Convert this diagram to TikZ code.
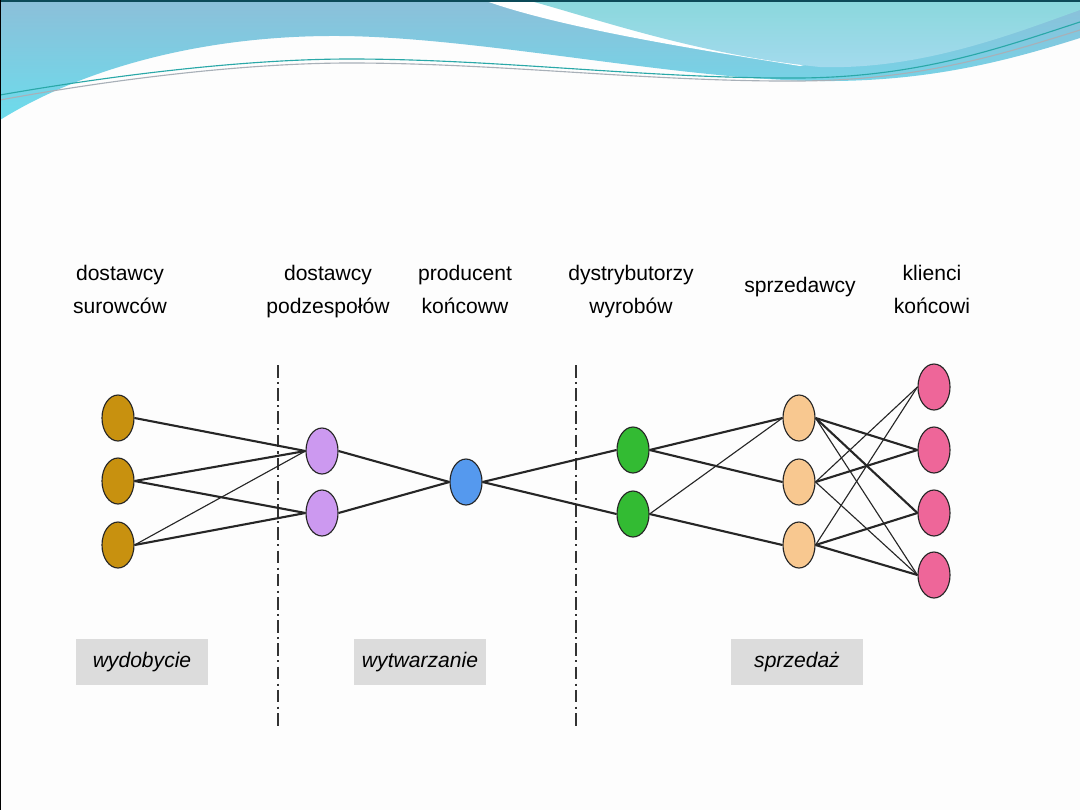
\documentclass[tikz,border=0pt]{standalone}
\usepackage{fontspec}
\setmainfont{Liberation Sans}
\usetikzlibrary{shapes.geometric}

\definecolor{tlo}{HTML}{FDFDFD}
\definecolor{ciemny}{HTML}{0C4A58}
\definecolor{pasLgora}{HTML}{8CBFD9}
\definecolor{pasLdol}{HTML}{6CDCEC}
\definecolor{pasPgora}{HTML}{8AD8DC}
\definecolor{pasPdol}{HTML}{A4DAEE}
\definecolor{liniaA}{HTML}{2AA8A8}
\definecolor{liniaB}{HTML}{A8B0B8}
\definecolor{szary}{HTML}{DCDCDC}
\definecolor{surowiec}{HTML}{C8910F}
\definecolor{podzespol}{HTML}{CC99F0}
\definecolor{producent}{HTML}{5599EE}
\definecolor{dystrybutor}{HTML}{33BB33}
\definecolor{sprzedawca}{HTML}{F8C890}
\definecolor{klient}{HTML}{EE6699}

\begin{document}
\begin{tikzpicture}[x=0.025cm, y=-0.025cm,
	wezel/.style={shape=ellipse, draw=black!85, line width=0.8pt, minimum width=0.8cm, minimum height=1.15cm, inner sep=0pt},
	etykieta/.style={align=center, inner sep=0pt, font=\fontsize{15}{23.5}\selectfont},
	faza/.style={fill=szary, minimum width=3.3cm, minimum height=1.15cm, inner sep=0pt, font=\fontsize{15}{18}\selectfont\itshape},
	polaczenie/.style={line width=1.5pt, black!85},
	cienkie/.style={line width=0.8pt, black!85},
	granica/.style={line width=0.8pt, black!80, dash pattern=on 9pt off 3pt on 1.5pt off 3pt}]
	\useasboundingbox (0,0) rectangle (1080,810);
	% Background and header waves:
	\fill[tlo] (0,0) rectangle (1080,810);
	\shade[top color=pasLgora, bottom color=pasLdol] (0,0) -- (1080,0) -- (1080,38) .. controls (1010,60) and (930,82) .. (820,81) .. controls (680,80) and (480,37) .. (340,36) .. controls (200,35) and (80,70) .. (0,120) -- cycle;
	\fill[white] (483,0) .. controls (560,28) and (700,50) .. (800,66) -- (1080,0) -- cycle;
	\shade[top color=pasPgora, bottom color=pasPdol] (527,0) .. controls (600,20) and (700,55) .. (820,67) .. controls (920,70) and (1010,35) .. (1080,10) -- (1080,0) -- cycle;
	\draw[liniaA, line width=0.8pt] (0,95) .. controls (120,74) and (250,59) .. (350,59) .. controls (500,59) and (650,79) .. (800,78) .. controls (920,77) and (1000,48) .. (1080,22);
	\draw[liniaB, line width=0.8pt] (0,100) .. controls (120,78) and (250,63) .. (350,63) .. controls (500,63) and (650,82) .. (800,81) .. controls (920,80) and (1000,55) .. (1080,30);
	\fill[ciemny] (0,0) rectangle (1080,2);
	\fill[black] (0,0) rectangle (1.5,810);

	% Labels:
	\node[etykieta] (lsur) at (120,289){dostawcy\\surowców};
	\node[etykieta] (lpod) at (328,292){dostawcy\\podzespołów};
	\node[etykieta] (lprod) at (465,289){producent\\końcoww};
	\node[etykieta] (ldys) at (631,292){dystrybutorzy\\wyrobów};
	\node[etykieta] (lsprz) at (800,287){sprzedawcy};
	\node[etykieta] (lkl) at (932,289){klienci\\końcowi};

	% Dividers:
	\draw[granica] (278,365) -- (278,728);
	\draw[granica] (576,365) -- (576,728);

	% Nodes:
	\node[wezel, fill=surowiec] (sur1) at (118,418){};
	\node[wezel, fill=surowiec] (sur2) at (118,481){};
	\node[wezel, fill=surowiec] (sur3) at (118,545){};
	\node[wezel, fill=podzespol] (pod1) at (322,451){};
	\node[wezel, fill=podzespol] (pod2) at (322,513){};
	\node[wezel, fill=producent] (prod) at (466,482){};
	\node[wezel, fill=dystrybutor] (dys1) at (633,450){};
	\node[wezel, fill=dystrybutor] (dys2) at (633,514){};
	\node[wezel, fill=sprzedawca] (sprz1) at (799,418){};
	\node[wezel, fill=sprzedawca] (sprz2) at (799,482){};
	\node[wezel, fill=sprzedawca] (sprz3) at (799,545){};
	\node[wezel, fill=klient] (kl1) at (934,387){};
	\node[wezel, fill=klient] (kl2) at (934,450){};
	\node[wezel, fill=klient] (kl3) at (934,513){};
	\node[wezel, fill=klient] (kl4) at (934,575){};

	% Connections:
	\draw[polaczenie] (sur1.east) -- (pod1.west);
	\draw[polaczenie] (sur2.east) -- (pod1.west);
	\draw[polaczenie] (sur2.east) -- (pod2.west);
	\draw[cienkie] (sur3.east) -- (pod1.west);
	\draw[polaczenie] (sur3.east) -- (pod2.west);
	\draw[polaczenie] (pod1.east) -- (prod.west);
	\draw[polaczenie] (pod2.east) -- (prod.west);
	\draw[polaczenie] (prod.east) -- (dys1.west);
	\draw[polaczenie] (prod.east) -- (dys2.west);
	\draw[polaczenie] (dys1.east) -- (sprz1.west);
	\draw[polaczenie] (dys1.east) -- (sprz2.west);
	\draw[cienkie] (dys2.east) -- (sprz1.west);
	\draw[polaczenie] (dys2.east) -- (sprz3.west);
	\draw[polaczenie] (sprz1.east) -- (kl2.west);
	\draw[polaczenie] (sprz1.east) -- (kl3.west);
	\draw[cienkie] (sprz1.east) -- (kl4.west);
	\draw[cienkie] (sprz2.east) -- (kl1.west);
	\draw[polaczenie] (sprz2.east) -- (kl2.west);
	\draw[cienkie] (sprz2.east) -- (kl4.west);
	\draw[cienkie] (sprz3.east) -- (kl1.west);
	\draw[polaczenie] (sprz3.east) -- (kl3.west);
	\draw[polaczenie] (sprz3.east) -- (kl4.west);

	% Phase boxes:
	\node[faza] (wyd) at (142,662){wydobycie};
	\node[faza] (wyt) at (420,662){wytwarzanie};
	\node[faza] (sprzed) at (797,662){sprzedaż};
\end{tikzpicture}
\end{document}
